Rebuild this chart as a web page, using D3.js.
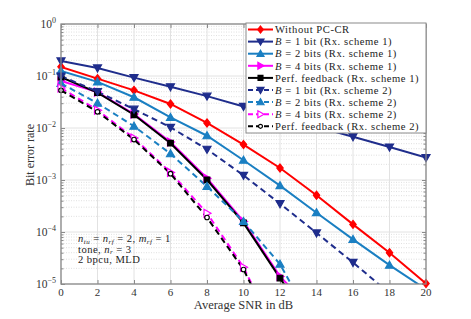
<!DOCTYPE html>
<html><head><meta charset="utf-8">
<script src="https://cdn.jsdelivr.net/npm/d3@7"></script>
<style>
body{margin:0;background:#fff;}
text{font-family:"Liberation Serif","DejaVu Serif",serif;}
</style></head>
<body><svg id="c" width="471" height="319"></svg>
<script>
// ---- data ----
const snr = [0,2,4,6,8,10,12,14,16,18,20];
const xTicks = [0,2,4,6,8,10,12,14,16,18,20];
const yTickExps = [0,-1,-2,-3,-4,-5];
const withoutPC = [0.15,0.089,0.053,0.029,0.0125,0.0048,0.0017,5.1e-4,1.4e-4,4.0e-5,1.02e-5];
const b1Rx1 = [0.195,0.143,0.093,0.062,0.041,0.026,0.016,0.0105,0.0068,0.0043,0.0027];
const b2Rx1 = [0.125,0.077,0.039,0.016,0.0071,0.0024,7.8e-4,2.35e-4,7.2e-5,2.3e-5,7.9e-6];
const b4Rx1 = [0.08,0.049,0.0185,0.0054,0.00108,1.6e-4,1.4e-5,2.6e-6];
const perfRx1 = [0.095,0.048,0.018,0.0051,0.00101,1.5e-4,1.3e-5,1.1e-6];
const b1Rx2 = [0.1,0.05,0.023,0.0103,0.0039,0.00123,3.5e-4,9.6e-5,2.6e-5,6.6e-6];
const b2Rx2 = [0.072,0.030,0.0108,0.0032,7.5e-4,1.6e-4,2.4e-5,1.3e-6];
const b4Rx2 = [0.059,0.022,0.0064,0.0014,2.3e-4,2.1e-5,7.8e-7];
const perfRx2 = [0.053,0.0205,0.006,0.00132,1.9e-4,1.9e-5,7.6e-7];

const series = [
 {name:"Without PC-CR", vals:withoutPC, color:"#ff0000", dash:null, marker:"diamond", fill:true},
 {name:"B|= 1 bit (Rx. scheme 1)", vals:b1Rx1, color:"#1f2d8c", dash:null, marker:"down", fill:true},
 {name:"B|= 2 bits (Rx. scheme 1)", vals:b2Rx1, color:"#1a7fc2", dash:null, marker:"up", fill:true},
 {name:"B|= 4 bits (Rx. scheme 1)", vals:b4Rx1, color:"#ff00ff", dash:null, marker:"right", fill:true},
 {name:"Perf. feedback (Rx. scheme 1)", vals:perfRx1, color:"#000000", dash:null, marker:"square", fill:true},
 {name:"B|= 1 bit (Rx. scheme 2)", vals:b1Rx2, color:"#1f2d8c", dash:"6,4", marker:"down", fill:true},
 {name:"B|= 2 bits (Rx. scheme 2)", vals:b2Rx2, color:"#1a7fc2", dash:"6,4", marker:"up", fill:true},
 {name:"B|= 4 bits (Rx. scheme 2)", vals:b4Rx2, color:"#ff00ff", dash:"6,4", marker:"right", fill:false},
 {name:"Perf. feedback (Rx. scheme 2)", vals:perfRx2, color:"#000000", dash:"6,4", marker:"circle", fill:false}
];

const svg = d3.select("#c");
const L=61, R=426, T=24, B=284;
const x = d3.scaleLinear().domain([0,20]).range([L,R]);
const y = d3.scaleLog().domain([1e-5,1]).range([B,T]);

// grid
const g = svg.append("g");
const minors = [];
for(let e=-5;e<0;e++) for(let k=2;k<=9;k++) minors.push(k*Math.pow(10,e));
g.selectAll(".mg").data(minors).enter().append("line")
 .attr("x1",L).attr("x2",R).attr("y1",d=>y(d)).attr("y2",d=>y(d))
 .attr("stroke","#d8d8d8").attr("stroke-width",0.8).attr("stroke-dasharray","1,1.5");
g.selectAll(".gx").data(xTicks).enter().append("line")
 .attr("x1",d=>x(d)).attr("x2",d=>x(d)).attr("y1",T).attr("y2",B)
 .attr("stroke","#e2e2e2").attr("stroke-width",1);
g.selectAll(".gy").data(yTickExps).enter().append("line")
 .attr("x1",L).attr("x2",R).attr("y1",d=>y(Math.pow(10,d))).attr("y2",d=>y(Math.pow(10,d)))
 .attr("stroke","#e2e2e2").attr("stroke-width",1);

// axes with inward ticks
const axCol="#8a8a8a";
function styleAxis(sel){ sel.select(".domain").remove(); sel.selectAll("line").attr("stroke",axCol); sel.selectAll("text").remove(); }
svg.append("g").attr("transform",`translate(0,${B})`).call(d3.axisBottom(x).tickValues(xTicks).tickSize(-4)).call(styleAxis);
svg.append("g").attr("transform",`translate(0,${T})`).call(d3.axisTop(x).tickValues(xTicks).tickSize(-4)).call(styleAxis);
const yAllTicks = yTickExps.map(e=>Math.pow(10,e));
svg.append("g").attr("transform",`translate(${L},0)`).call(d3.axisLeft(y).tickValues(yAllTicks).tickSize(-4)).call(styleAxis);
svg.append("g").attr("transform",`translate(${R},0)`).call(d3.axisRight(y).tickValues(yAllTicks).tickSize(-4)).call(styleAxis);
svg.append("g").attr("transform",`translate(${L},0)`).call(d3.axisLeft(y).tickValues(minors).tickSize(-2.5)).call(styleAxis);
svg.append("g").attr("transform",`translate(${R},0)`).call(d3.axisRight(y).tickValues(minors).tickSize(-2.5)).call(styleAxis);

// clip
svg.append("clipPath").attr("id","clp").append("rect").attr("x",L).attr("y",T).attr("width",R-L).attr("height",B-T);

function markerPath(type, s){
 const h=s;
 switch(type){
  case "diamond": return `M0,${-h}L${h*0.8},0L0,${h}L${-h*0.8},0Z`;
  case "down": return `M${-h},${-h*0.75}L${h},${-h*0.75}L0,${h}Z`;
  case "up": return `M${-h},${h*0.75}L${h},${h*0.75}L0,${-h}Z`;
  case "right": return `M${-h*0.75},${-h}L${-h*0.75},${h}L${h},0Z`;
  case "square": return `M${-h*0.7},${-h*0.7}H${h*0.7}V${h*0.7}H${-h*0.7}Z`;
  case "circle": return d3.symbol(d3.symbolCircle, Math.PI*h*h*0.5)();
 }
}

const line = d3.line().x(d=>x(d[0])).y(d=>y(d[1]));
const plot = svg.append("g").attr("clip-path","url(#clp)");
series.forEach(s=>{
 const pts = s.vals.map((v,i)=>[snr[i],v]);
 plot.append("path").attr("d",line(pts)).attr("fill","none")
  .attr("stroke",s.color).attr("stroke-width",2).attr("stroke-dasharray",s.dash);
});
const mk = svg.append("g");
series.forEach(s=>{
 const pts = s.vals.map((v,i)=>[snr[i],v]).filter(p=>p[1]>=1e-5);
 mk.selectAll(null).data(pts).enter().append("path")
  .attr("transform",d=>`translate(${x(d[0])},${y(d[1])})`)
  .attr("d",markerPath(s.marker, s.marker==="circle"?3.2:4))
  .attr("fill",s.fill?s.color:"#fff").attr("stroke",s.color).attr("stroke-width",1.2);
});

// box
svg.append("rect").attr("x",L).attr("y",T).attr("width",R-L).attr("height",B-T)
 .attr("fill","none").attr("stroke",axCol).attr("stroke-width",1.3);

// tick labels
svg.selectAll(".xl").data(xTicks).enter().append("text")
 .attr("x",d=>x(d)).attr("y",296).attr("text-anchor","middle")
 .attr("font-size",11).attr("fill","#333").text(d=>d);
yTickExps.forEach(e=>{
 const t = svg.append("text").attr("x",56).attr("y",y(Math.pow(10,e))+4).attr("text-anchor","end")
  .attr("font-size",11.5).attr("fill","#333");
 t.append("tspan").text("10");
 t.append("tspan").attr("dy",-5).attr("font-size",8).text(e===0?"0":"\u2212"+(-e));
});

// axis titles
svg.append("text").attr("x",(L+R)/2).attr("y",308.5).attr("text-anchor","middle")
 .attr("font-size",12.5).attr("fill","#333").text("Average SNR in dB");
svg.append("text").attr("transform","translate(34,155) rotate(-90)").attr("text-anchor","middle")
 .attr("font-size",12).attr("fill","#333").text("Bit error rate");

// annotation
function addRich(tx, parts){
 parts.forEach(p=>{
  const ts = tx.append("tspan").text(p.t);
  if(p.i) ts.attr("font-style","italic");
  if(p.sub){ ts.attr("font-size",7).attr("dy",1.8); }
  if(p.up){ ts.attr("dy",-1.8); }
 });
}
const annStyle = t=>t.attr("font-size",10.6).attr("letter-spacing",0.45).attr("fill","#222");
const a1 = svg.append("text").attr("x",78).attr("y",242).call(annStyle);
addRich(a1,[{t:"n",i:1},{t:"tu",i:1,sub:1},{t:" = ",up:1},{t:"n",i:1},{t:"rf",i:1,sub:1},{t:" = 2, ",up:1},{t:"m",i:1},{t:"rf",i:1,sub:1},{t:" = 1",up:1}]);
const a2 = svg.append("text").attr("x",78).attr("y",252.6).call(annStyle);
addRich(a2,[{t:"tone, "},{t:"n",i:1},{t:"r",i:1,sub:1},{t:" = 3",up:1}]);
svg.append("text").attr("x",78).attr("y",263.2).call(annStyle).text("2 bpcu, MLD");

// legend
const lg = svg.append("g");
lg.append("rect").attr("x",246).attr("y",23).attr("width",180).attr("height",110)
 .attr("fill","#fff").attr("stroke","#8a8a8a").attr("stroke-width",1);
series.forEach((s,i)=>{
 const yy = 29.5 + i*12.1;
 lg.append("line").attr("x1",248).attr("x2",273).attr("y1",yy).attr("y2",yy)
  .attr("stroke",s.color).attr("stroke-width",2).attr("stroke-dasharray",s.dash? "5,3":null);
 lg.append("path").attr("transform",`translate(260.5,${yy})`)
  .attr("d",markerPath(s.marker, s.marker==="circle"?2.8:3.5))
  .attr("fill",s.fill?s.color:"#fff").attr("stroke",s.color).attr("stroke-width",1.2);
 const t = lg.append("text").attr("x",275).attr("y",yy+3.7).attr("font-size",10.6)
  .attr("letter-spacing",0.55).attr("fill","#222");
 if(s.name.indexOf("|")>=0){
  const [a,b] = s.name.split("|");
  t.append("tspan").attr("font-style","italic").text(a);
  t.append("tspan").text(" "+b);
 } else t.text(s.name);
});
</script></body></html>
